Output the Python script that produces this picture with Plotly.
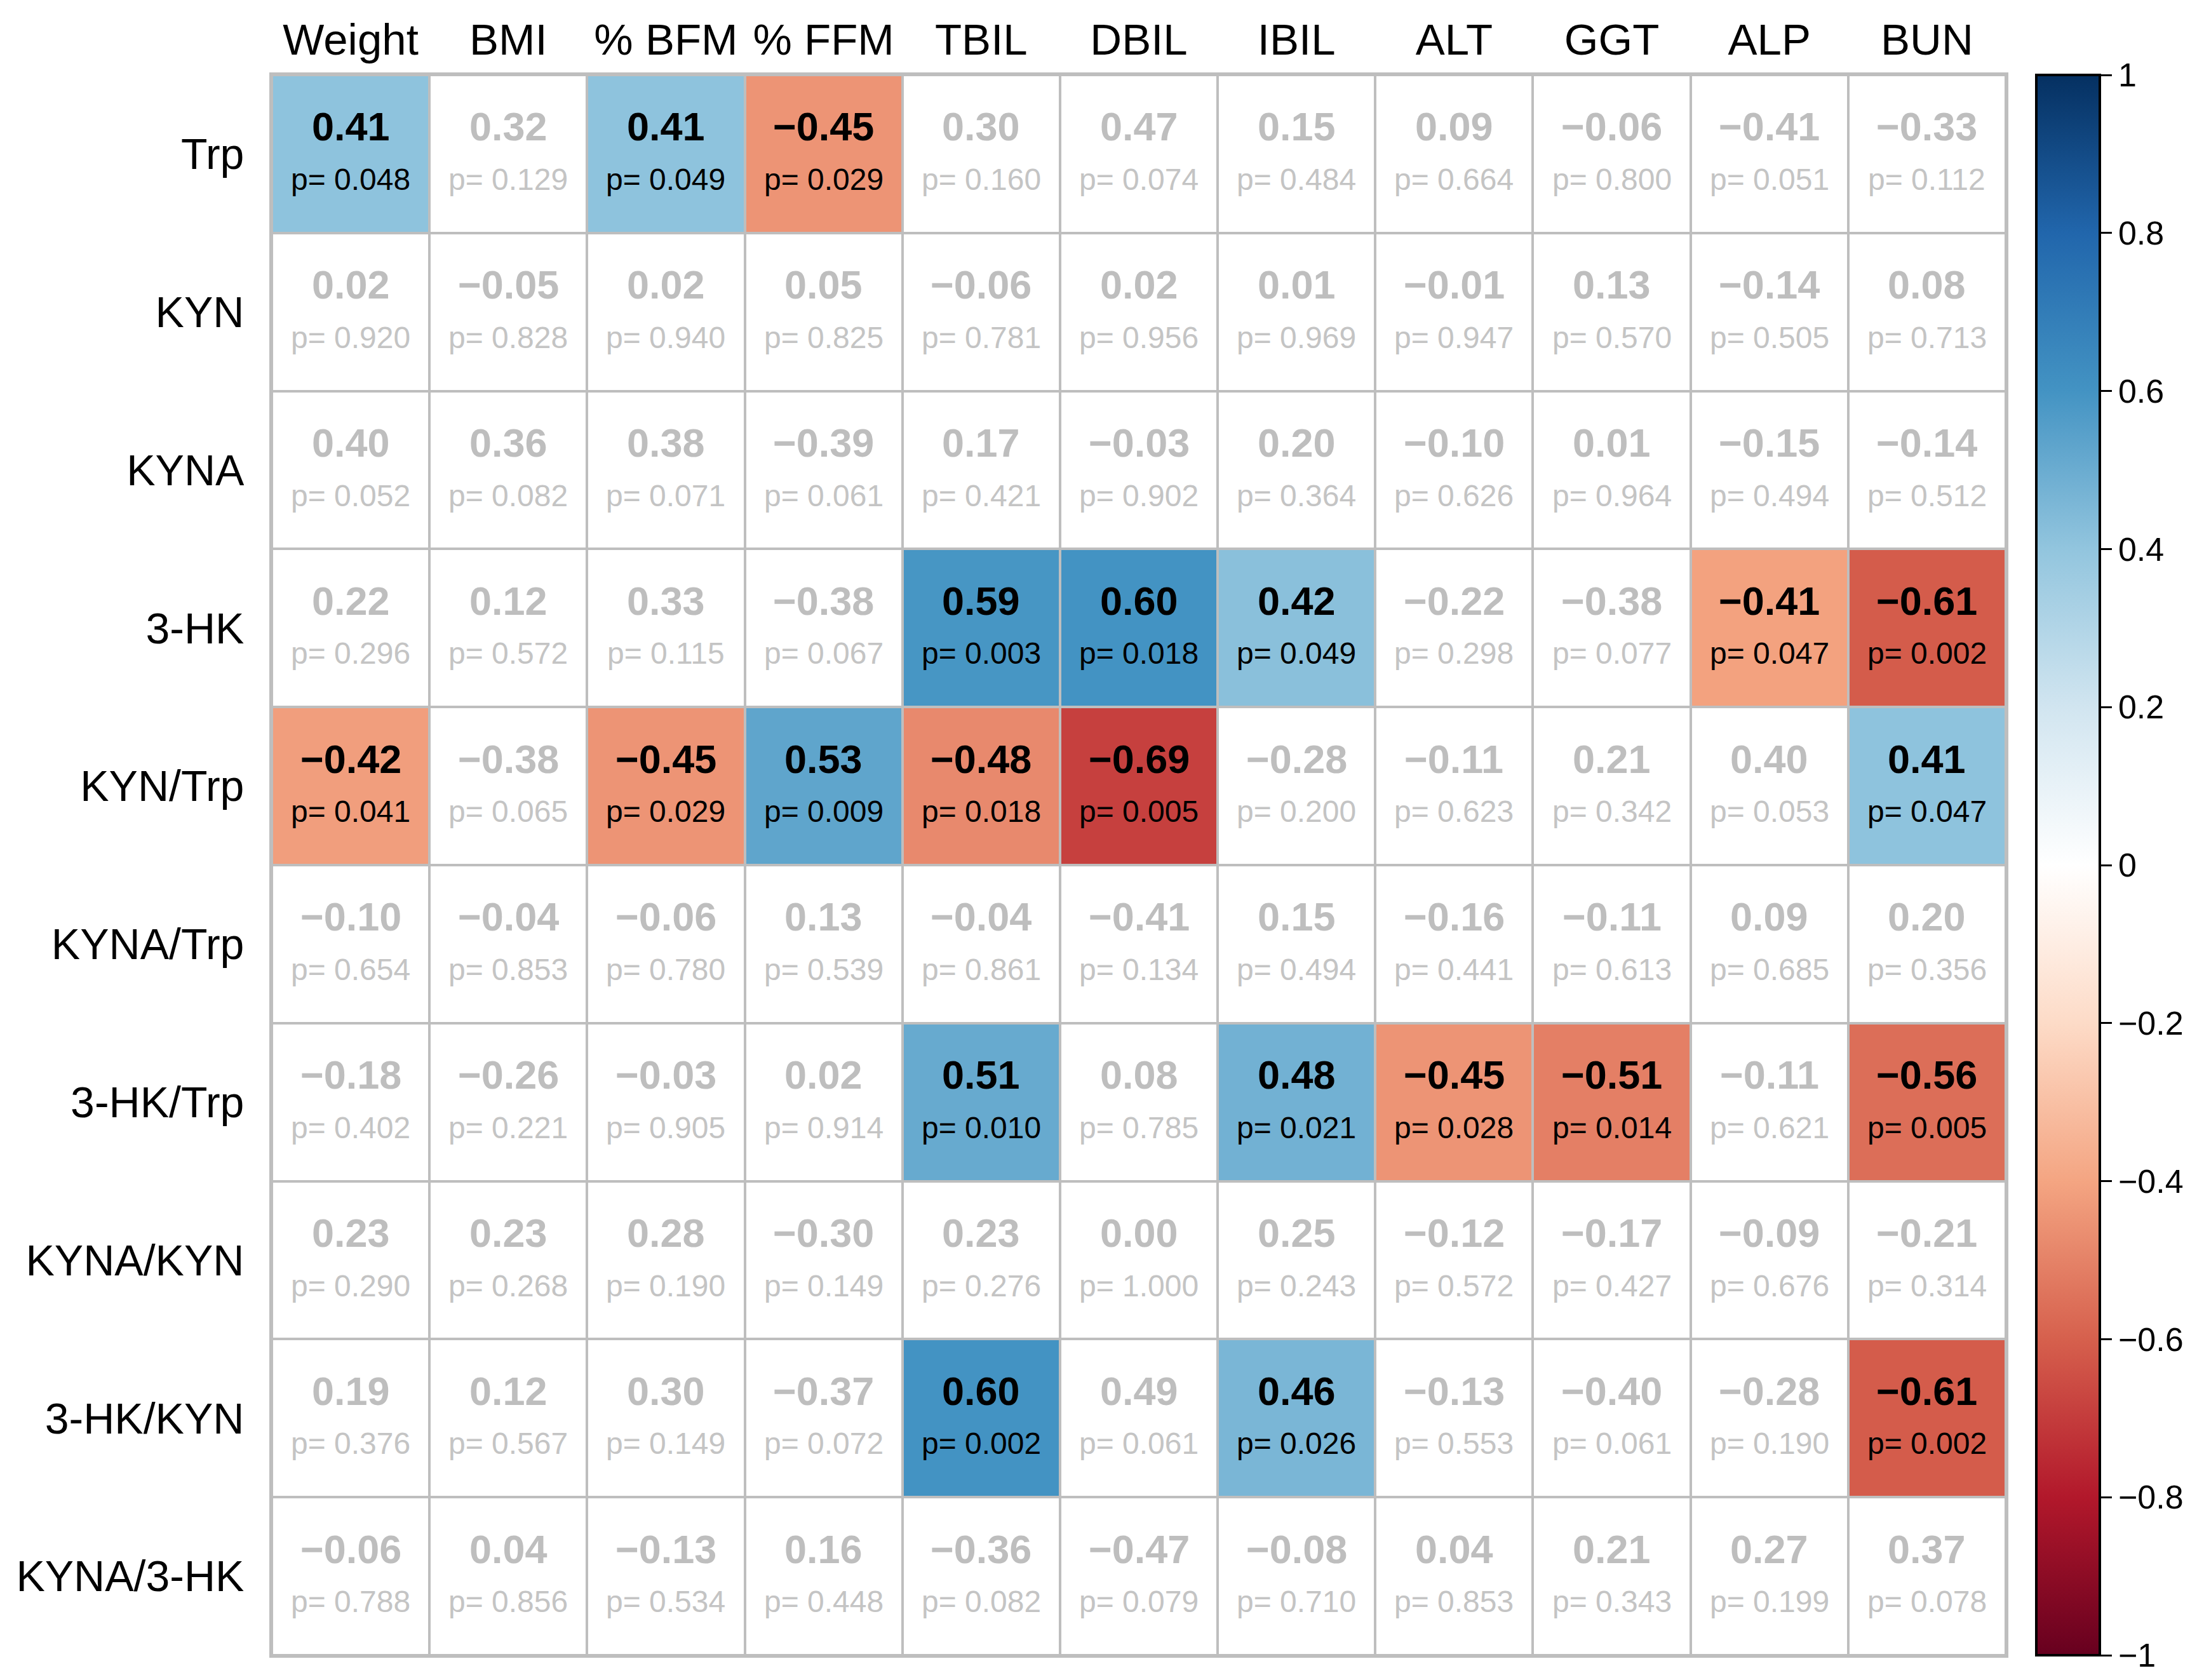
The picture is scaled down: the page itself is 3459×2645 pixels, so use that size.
import plotly.graph_objects as go

# column / row labels
cols = ["Weight", "BMI", "% BFM", "% FFM", "TBIL", "DBIL", "IBIL", "ALT", "GGT", "ALP", "BUN"]
rows = ["Trp", "KYN", "KYNA", "3-HK", "KYN/Trp", "KYNA/Trp", "3-HK/Trp",
        "KYNA/KYN", "3-HK/KYN", "KYNA/3-HK"]

# correlation coefficients, one list per row
r_trp = [0.41, 0.32, 0.41, -0.45, 0.30, 0.47, 0.15, 0.09, -0.06, -0.41, -0.33]
r_kyn = [0.02, -0.05, 0.02, 0.05, -0.06, 0.02, 0.01, -0.01, 0.13, -0.14, 0.08]
r_kyna = [0.40, 0.36, 0.38, -0.39, 0.17, -0.03, 0.20, -0.10, 0.01, -0.15, -0.14]
r_3hk = [0.22, 0.12, 0.33, -0.38, 0.59, 0.60, 0.42, -0.22, -0.38, -0.41, -0.61]
r_kyn_trp = [-0.42, -0.38, -0.45, 0.53, -0.48, -0.69, -0.28, -0.11, 0.21, 0.40, 0.41]
r_kyna_trp = [-0.10, -0.04, -0.06, 0.13, -0.04, -0.41, 0.15, -0.16, -0.11, 0.09, 0.20]
r_3hk_trp = [-0.18, -0.26, -0.03, 0.02, 0.51, 0.08, 0.48, -0.45, -0.51, -0.11, -0.56]
r_kyna_kyn = [0.23, 0.23, 0.28, -0.30, 0.23, 0.00, 0.25, -0.12, -0.17, -0.09, -0.21]
r_3hk_kyn = [0.19, 0.12, 0.30, -0.37, 0.60, 0.49, 0.46, -0.13, -0.40, -0.28, -0.61]
r_kyna_3hk = [-0.06, 0.04, -0.13, 0.16, -0.36, -0.47, -0.08, 0.04, 0.21, 0.27, 0.37]

# p-values, one list per row
p_trp = [0.048, 0.129, 0.049, 0.029, 0.160, 0.074, 0.484, 0.664, 0.800, 0.051, 0.112]
p_kyn = [0.920, 0.828, 0.940, 0.825, 0.781, 0.956, 0.969, 0.947, 0.570, 0.505, 0.713]
p_kyna = [0.052, 0.082, 0.071, 0.061, 0.421, 0.902, 0.364, 0.626, 0.964, 0.494, 0.512]
p_3hk = [0.296, 0.572, 0.115, 0.067, 0.003, 0.018, 0.049, 0.298, 0.077, 0.047, 0.002]
p_kyn_trp = [0.041, 0.065, 0.029, 0.009, 0.018, 0.005, 0.200, 0.623, 0.342, 0.053, 0.047]
p_kyna_trp = [0.654, 0.853, 0.780, 0.539, 0.861, 0.134, 0.494, 0.441, 0.613, 0.685, 0.356]
p_3hk_trp = [0.402, 0.221, 0.905, 0.914, 0.010, 0.785, 0.021, 0.028, 0.014, 0.621, 0.005]
p_kyna_kyn = [0.290, 0.268, 0.190, 0.149, 0.276, 1.000, 0.243, 0.572, 0.427, 0.676, 0.314]
p_3hk_kyn = [0.376, 0.567, 0.149, 0.072, 0.002, 0.061, 0.026, 0.553, 0.061, 0.190, 0.002]
p_kyna_3hk = [0.788, 0.856, 0.534, 0.448, 0.082, 0.079, 0.710, 0.853, 0.343, 0.199, 0.078]

r_vals = [r_trp, r_kyn, r_kyna, r_3hk, r_kyn_trp, r_kyna_trp, r_3hk_trp,
          r_kyna_kyn, r_3hk_kyn, r_kyna_3hk]
p_vals = [p_trp, p_kyn, p_kyna, p_3hk, p_kyn_trp, p_kyna_trp, p_3hk_trp,
          p_kyna_kyn, p_3hk_kyn, p_kyna_3hk]

sig_level = 0.05

# RdBu as in corrplot (-1 red ... 1 blue)
rdbu = ["#67001F", "#B2182B", "#D6604D", "#F4A582", "#FDDBC7", "#FFFFFF",
        "#D1E5F0", "#92C5DE", "#4393C3", "#2166AC", "#053061"]
colorscale = [[i / (len(rdbu) - 1), c] for i, c in enumerate(rdbu)]

FONT = "Liberation Sans, Arial, sans-serif"
GRID = "#BEBEBE"
GAP = 4

xs = list(range(len(cols)))
ys = list(range(len(rows)))

# only significant cells get a colour
z_sig = [[r if p < sig_level else None for r, p in zip(rr, pp)]
         for rr, pp in zip(r_vals, p_vals)]

fig = go.Figure()

# white bricks for all cells, gray background shows through the gaps
fig.add_trace(go.Heatmap(
    x=xs, y=ys, z=[[0] * len(cols) for _ in rows],
    colorscale=[[0, "white"], [1, "white"]], showscale=False,
    xgap=GAP, ygap=GAP, hoverinfo="skip"))

fig.add_trace(go.Heatmap(
    x=xs, y=ys, z=z_sig,
    colorscale=colorscale, zmin=-1, zmax=1,
    xgap=GAP, ygap=GAP,
    colorbar=dict(
        x=1.0176, xanchor="left", xpad=0,
        y=0.5, yanchor="middle", len=1, lenmode="fraction", ypad=0,
        thickness=100, thicknessmode="pixels",
        outlinecolor="black", outlinewidth=4,
        tickmode="linear", tick0=-1, dtick=0.2,
        ticks="outside", ticklen=17, tickwidth=3, tickcolor="black",
        tickfont=dict(family=FONT, size=52, color="black"),
    )))

annotations = []
for i, row in enumerate(rows):
    for j, col in enumerate(cols):
        r = r_vals[i][j]
        p = p_vals[i][j]
        sig = p < sig_level
        r_txt = f"{abs(r):.2f}"
        if r < 0:
            r_txt = "\u2212" + r_txt
        annotations.append(dict(
            x=j, y=i, xref="x", yref="y", text=f"<b>{r_txt}</b>",
            showarrow=False, yshift=43,
            font=dict(family=FONT, size=63, color="black" if sig else "#BEBEBE")))
        annotations.append(dict(
            x=j, y=i, xref="x", yref="y", text=f"p= {p:.3f}",
            showarrow=False, yshift=-40,
            font=dict(family=FONT, size=48, color="black" if sig else "#C4C4C4")))

fig.update_layout(
    width=3459, height=2645,
    margin=dict(l=420, r=309, t=110, b=47, autoexpand=False),
    paper_bgcolor="white", plot_bgcolor=GRID,
    annotations=annotations,
    font=dict(family=FONT, color="black"),
)
fig.update_xaxes(
    side="top", tickmode="array", tickvals=xs, ticktext=cols,
    range=[-0.5, len(cols) - 0.5], showgrid=False, zeroline=False,
    ticks="", automargin=False,
    tickfont=dict(family=FONT, size=69, color="black"),
    showline=True, mirror=True, linecolor=GRID, linewidth=4)
fig.update_yaxes(
    tickmode="array", tickvals=ys, ticktext=rows,
    range=[len(rows) - 0.5, -0.5], showgrid=False, zeroline=False,
    ticks="outside", ticklen=26, tickcolor="rgba(0,0,0,0)", automargin=False,
    tickfont=dict(family=FONT, size=68, color="black"),
    showline=True, mirror=True, linecolor=GRID, linewidth=4)

fig.write_html("out.html")
